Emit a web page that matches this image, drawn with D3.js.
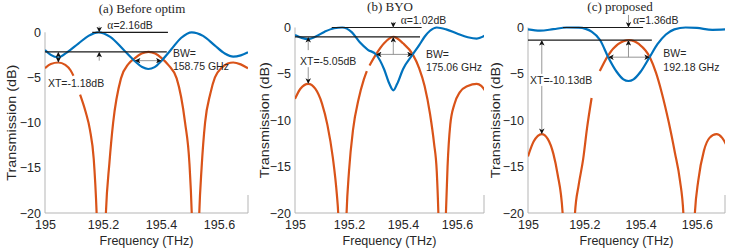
<!DOCTYPE html>
<html>
<head>
<meta charset="utf-8">
<script src="https://cdn.jsdelivr.net/npm/d3@7"></script>
<style>
body { margin: 0; background: #fff; }
text { font-family: "Liberation Sans", Arial, sans-serif; fill: #262626; }
</style>
</head>
<body>
<svg id="fig" width="747" height="251"></svg>
<script>
// ---- data: [frequency THz, transmission dB], null = gap
var freqTicks = [195, 195.2, 195.4, 195.6];
var dbTicks = [0, -5, -10, -15, -20];
var titles = ["(a) Before optim", "(b) BYO", "(c) proposed"];
var alphaLoss = [2.16, 1.02, 1.36];
var crosstalk = [-1.18, -5.05, -10.13];
var bandwidth = [158.75, 175.06, 192.18];

var blueA = [[195.000,-1.96],[195.020,-2.5],[195.046,-2.76],[195.075,-2.25],[195.115,-1.25],[195.150,-0.4],[195.184,0],
  [195.225,-0.5],[195.270,-1.9],[195.310,-3.2],[195.335,-3.85],[195.356,-4.06],[195.378,-3.85],[195.402,-3.14],
  [195.435,-1.9],[195.470,-0.6],[195.506,0],[195.545,-0.4],[195.585,-1.45],[195.620,-2.35],[195.649,-2.7],
  [195.675,-2.55],[195.700,-2.2]];
var orangeA = [[195.000,-3.98],[195.020,-3.5],[195.046,-3.34],[195.070,-3.6],[195.088,-4.2],[195.098,-4.8],[195.108,null],
  [195.121,-6.9],[195.140,-8.8],[195.155,-10.8],[195.168,-14],[195.178,-20],[195.194,-40],[195.210,-20],[195.222,-14.5],
  [195.235,-10],[195.262,-5.1],[195.288,-3.5],[195.310,-2.85],[195.333,-2.35],[195.357,-2.16],[195.380,-2.35],
  [195.402,-2.85],[195.425,-3.6],[195.454,-5.1],[195.483,-10],[195.498,-14.5],[195.506,-20],[195.519,-40],[195.532,-20],
  [195.540,-15],[195.552,-10],[195.570,-6.8],[195.586,-5],[195.610,-3.9],[195.630,-3.45],[195.649,-3.34],
  [195.675,-3.55],[195.700,-3.98]];

var blueB = [[195.000,-0.8],[195.025,-1.12],[195.049,-1.25],[195.075,-1.0],[195.110,-0.45],[195.145,-0.08],[195.175,0],
  [195.210,-0.5],[195.240,-1.6],[195.270,-2.4],[195.300,-2.9],[195.330,-4.5],[195.350,-6.1],[195.364,-6.77],
  [195.378,-6.1],[195.400,-4.5],[195.436,-2.9],[195.460,-1.9],[195.480,-1.0],[195.500,-0.35],[195.525,0],
  [195.560,-0.2],[195.600,-0.65],[195.640,-1.05],[195.673,-1.2],[195.704,-0.85]];
var orangeB = [[195.000,-7.7],[195.020,-6.6],[195.049,-6.07],[195.075,-6.6],[195.100,-8.2],[195.120,-10.5],[195.140,-14],
  [195.155,-18],[195.160,-20],[195.176,-40],[195.191,-20],[195.200,-15.5],[195.215,-11],[195.235,-7.8],[195.255,-5.6],
  [195.266,-4.7],[195.270,null],[195.276,-4.1],[195.300,-2.9],[195.330,-1.7],[195.364,-1.02],[195.400,-1.7],
  [195.436,-2.9],[195.460,-4.4],[195.480,-6.3],[195.500,-9.3],[195.515,-12.5],[195.525,-15.5],[195.531,-20],
  [195.545,-40],[195.559,-20],[195.565,-15],[195.575,-10.5],[195.590,-8.3],[195.610,-7.0],[195.640,-6.3],
  [195.673,-6.07],[195.690,-6.3],[195.704,-6.8]];

var blueC = [[195.000,-0.2],[195.043,-0.34],[195.090,-0.18],[195.137,0],[195.180,-0.02],[195.205,-0.15],[195.226,-0.45],
  [195.256,-1.35],[195.285,-3.2],[195.315,-4.77],[195.339,-5.59],[195.357,-5.77],[195.375,-5.59],[195.400,-4.77],
  [195.432,-3.2],[195.460,-1.8],[195.490,-0.75],[195.520,-0.2],[195.560,0],[195.600,-0.05],[195.655,-0.25],[195.706,-0.2]];
var orangeC = [[195.000,-13.9],[195.020,-12.3],[195.049,-11.49],[195.070,-12.0],[195.090,-13.6],[195.105,-15.8],
  [195.123,-20],[195.145,-40],[195.167,-20],[195.180,-17],[195.196,-14.2],[195.210,-10.8],[195.226,-7.6],[195.240,null],
  [195.255,-4.7],[195.285,-3.0],[195.320,-1.8],[195.359,-1.36],[195.395,-1.8],[195.433,-3.2],[195.455,-4.9],
  [195.475,-7.0],[195.500,-10.2],[195.522,-13.5],[195.540,-16.5],[195.552,-20],[195.572,-40],[195.593,-20],
  [195.605,-16.5],[195.625,-13.3],[195.645,-11.9],[195.670,-11.49],[195.690,-11.9],[195.708,-12.85]];

// ---- layout of the three panels (annotation anchors in data units)
var panels = [
  { blue: blueA, orange: orangeA, box: [45, 248, 32.3, 213], titleX: 142, titleY: 13, ylabX: 12,
    line0: [195.163, 195.424], lineA: [195.0, 195.42], alphaF: 195.187, alphaTop: 0.65, alphaLab: [195.215, 0.75],
    xtF: 195.046, xtUp: -2.75, xtDown: -2.75, xtLab: [195.010, -5.6],
    bwSpan: [195.310, 195.402], bwDb: -3.14, bwLab: [195.441, -2.3] },
  { blue: blueB, orange: orangeB, box: [295, 484, 27.5, 213], titleX: 390, titleY: 11, ylabX: 265,
    line0: [195.136, 195.469], lineA: [195.0, 195.463], alphaF: 195.364, alphaTop: 0.6, alphaLab: [195.392, 0.75],
    xtF: 195.049, xtUp: -2.44, xtDown: -4.28, xtLab: [195.0185, -3.63],
    bwSpan: [195.300, 195.436], bwDb: -2.9, bwLab: [195.485, -2.87] },
  { blue: blueC, orange: orangeC, box: [528, 725, 27.5, 213], titleX: 620, titleY: 10.5, ylabX: 496,
    line0: [195.124, 195.409], lineA: [195.0, 195.44], alphaF: 195.357, alphaTop: 1.35, alphaLab: [195.373, 0.8],
    xtF: 195.049, xtUp: -5.0, xtDown: -6.3, xtLab: [195.007, -5.74],
    bwSpan: [195.285, 195.433], bwDb: -3.2, bwLab: [195.481, -2.78] }
];

var svg = d3.select("#fig");
var defs = svg.append("defs");
defs.append("marker")
  .attr("id", "ah")
  .attr("viewBox", "0 0 10 10")
  .attr("refX", 10).attr("refY", 5)
  .attr("markerWidth", 6).attr("markerHeight", 5.5)
  .attr("markerUnits", "userSpaceOnUse")
  .attr("orient", "auto-start-reverse")
  .append("path").attr("d", "M0,0 L10,5 L0,10 L2.5,5 z").attr("fill", "#111");

function arrow(g, x1, y1, x2, y2, both) {
  var l = g.append("line")
    .attr("x1", x1).attr("y1", y1).attr("x2", x2).attr("y2", y2)
    .attr("stroke", "#8a8a8a").attr("stroke-width", 0.9)
    .attr("marker-end", "url(#ah)");
  if (both) l.attr("marker-start", "url(#ah)");
}

panels.forEach(function(p, i) {
  var x = d3.scaleLinear().domain([195, 195.7]).range([p.box[0], p.box[1]]);
  var y = d3.scaleLinear().domain([0, -20]).range([p.box[2], p.box[3]]);
  var g = svg.append("g");

  // clip
  defs.append("clipPath").attr("id", "clip" + i)
    .append("rect")
    .attr("x", p.box[0]).attr("y", p.box[2] - 5)
    .attr("width", p.box[1] - p.box[0]).attr("height", p.box[3] - p.box[2] + 5);

  // axes
  var ya = g.append("g").attr("transform", "translate(" + p.box[0] + ",0)")
    .call(d3.axisLeft(y).tickValues(dbTicks).tickSize(0).tickPadding(4));
  var xa = g.append("g").attr("transform", "translate(0," + p.box[3] + ")")
    .call(d3.axisBottom(x).tickValues(freqTicks).tickSize(0).tickPadding(7.5)
      .tickFormat(function(d) { return String(d); }));
  [ya, xa].forEach(function(a) {
    a.select(".domain").remove();
    a.selectAll("text").style("font-size", "12.5px").attr("fill", "#262626");
  });
  g.append("path")
    .attr("d", "M" + p.box[0] + "," + p.box[2] + "V" + p.box[3] + "H" + p.box[1] + "V" + (p.box[3] - 18))
    .attr("fill", "none").attr("stroke", "#b5b5b5").attr("stroke-width", 1);

  // labels
  g.append("text")
    .attr("x", (p.box[0] + p.box[1]) / 2).attr("y", 245)
    .attr("text-anchor", "middle").style("font-size", "12.5px")
    .text("Frequency (THz)");
  g.append("text")
    .attr("transform", "translate(" + p.ylabX + "," + ((p.box[2] + p.box[3]) / 2) + ") rotate(-90) scale(1.15,1)")
    .attr("dy", "0.35em").attr("text-anchor", "middle").style("font-size", "12.5px")
    .text("Transmission (dB)");
  g.append("text")
    .attr("x", p.titleX).attr("y", p.titleY)
    .attr("text-anchor", "middle")
    .style("font-family", "'Liberation Serif', 'Times New Roman', serif").style("font-size", "13px")
    .attr("fill", "#111")
    .text(titles[i]);

  // curves
  var line = d3.line()
    .defined(function(d) { return d[1] !== null; })
    .x(function(d) { return x(d[0]); })
    .y(function(d) { return y(d[1]); })
    .curve(d3.curveMonotoneX);
  var cg = g.append("g").attr("clip-path", "url(#clip" + i + ")");
  cg.append("path").datum(p.orange).attr("d", line)
    .attr("fill", "none").attr("stroke", "#D95319").attr("stroke-width", 2.2);
  cg.append("path").datum(p.blue).attr("d", line)
    .attr("fill", "none").attr("stroke", "#0072BD").attr("stroke-width", 2.2);

  // annotations
  var a = -alphaLoss[i];
  var side = a + crosstalk[i];
  var ag = g.append("g");
  ag.append("line").attr("x1", x(p.line0[0])).attr("x2", x(p.line0[1]))
    .attr("y1", y(0)).attr("y2", y(0)).attr("stroke", "#1a1a1a").attr("stroke-width", 1.2);
  ag.append("line").attr("x1", x(p.lineA[0])).attr("x2", x(p.lineA[1]))
    .attr("y1", y(a)).attr("y2", y(a)).attr("stroke", "#1a1a1a").attr("stroke-width", 1.2);

  // alpha
  arrow(ag, x(p.alphaF), y(p.alphaTop), x(p.alphaF), y(0));
  arrow(ag, x(p.alphaF), y(p.bwDb), x(p.alphaF), y(a));
  var at = ag.append("text")
    .attr("x", x(p.alphaLab[0])).attr("y", y(p.alphaLab[1]))
    .attr("dy", "0.35em").style("font-size", "10.5px");
  at.append("tspan").style("font-family", "'Liberation Serif', serif").style("font-size", "11.5px").text("\u03b1");
  at.append("tspan").text("=" + alphaLoss[i].toFixed(2) + "dB");

  // crosstalk
  arrow(ag, x(p.xtF), y(p.xtUp), x(p.xtF), y(a));
  arrow(ag, x(p.xtF), y(p.xtDown), x(p.xtF), y(side));
  ag.append("text")
    .attr("x", x(p.xtLab[0])).attr("y", y(p.xtLab[1]))
    .attr("dy", "0.35em").style("font-size", "10.5px")
    .text("XT=" + crosstalk[i].toFixed(2) + "dB");

  // bandwidth
  arrow(ag, x(p.bwSpan[0]), y(p.bwDb), x(p.bwSpan[1]), y(p.bwDb), true);
  var bt = ag.append("text")
    .attr("x", x(p.bwLab[0])).attr("y", y(p.bwLab[1]))
    .attr("dy", "0.35em").style("font-size", "10.5px");
  bt.append("tspan").text("BW=");
  bt.append("tspan").attr("x", x(p.bwLab[0])).attr("dy", "1.3em").text(bandwidth[i].toFixed(2) + " GHz");
});
</script>
</body>
</html>
